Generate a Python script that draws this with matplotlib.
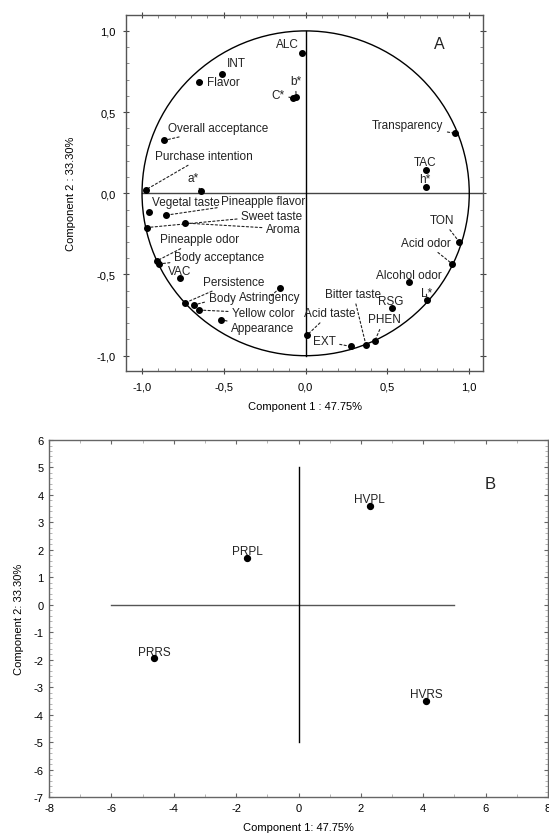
import matplotlib
matplotlib.use("Agg")
import matplotlib.pyplot as plt
from matplotlib.patches import Circle
from matplotlib.ticker import MultipleLocator, FixedLocator, FuncFormatter

plt.rcParams['font.family'] = ['Liberation Sans', 'DejaVu Sans']

# ---------------- Data: panel A (loadings) ----------------
var_names = ["ALC", "INT", "Flavor", "b*", "C*", "Overall acceptance", "Purchase intention", "a*",
             "Transparency", "TAC", "h*", "Vegetal taste", "Pineapple flavor", "Sweet taste", "Aroma",
             "Pineapple odor", "Body acceptance", "VAC", "Persistence", "Body", "Astringency",
             "Yellow color", "Appearance", "Acid taste", "Bitter taste", "RSG", "PHEN", "EXT",
             "TON", "Acid odor", "Alcohol odor", "L*"]
load_pc1 = [-0.02, -0.509, -0.65, -0.058, -0.078, -0.864, -0.976, -0.639,
            0.914, 0.737, 0.733, -0.955, -0.855, -0.971, -0.739,
            -0.906, -0.896, -0.768, -0.735, -0.680, -0.158,
            -0.65, -0.515, 0.007, 0.368, 0.529, 0.421, 0.276,
            0.937, 0.896, 0.631, 0.743]
load_pc2 = [0.862, 0.735, 0.688, 0.59, 0.586, 0.326, 0.022, 0.012,
            0.369, 0.141, 0.041, -0.117, -0.135, -0.211, -0.183,
            -0.414, -0.435, -0.522, -0.674, -0.687, -0.584,
            -0.719, -0.779, -0.875, -0.932, -0.709, -0.912, -0.943,
            -0.297, -0.435, -0.547, -0.66]

# ---------------- Data: panel B (scores) ----------------
samples = ["HVPL", "PRPL", "PRRS", "HVRS"]
score_pc1 = [2.28, -1.65, -4.64, 4.10]
score_pc2 = [3.60, 1.72, -1.94, -3.50]

a_ticks = [-1.0, -0.5, 0.0, 0.5, 1.0]
a_ticklabels = ["-1,0", "-0,5", "0,0", "0,5", "1,0"]
b_xticks = [-8, -6, -4, -2, 0, 2, 4, 6, 8]
b_yticks = [-7, -6, -5, -4, -3, -2, -1, 0, 1, 2, 3, 4, 5, 6]

# ---------------- Layout: label placement for panel A ----------------
# (text centre x, text centre y, draw leader line)
label_layout = {
    "ALC": (-0.109, 0.922, False), "INT": (-0.425, 0.80, False), "Flavor": (-0.505, 0.686, True),
    "b*": (-0.062, 0.69, True), "C*": (-0.168, 0.608, True),
    "Overall acceptance": (-0.533, 0.403, True), "Purchase intention": (-0.619, 0.231, True),
    "a*": (-0.69, 0.092, True), "Transparency": (0.623, 0.42, True), "TAC": (0.733, 0.19, False),
    "h*": (0.729, 0.088, False), "Vegetal taste": (-0.731, -0.052, False),
    "Pineapple flavor": (-0.258, -0.047, True), "Sweet taste": (-0.207, -0.138, True),
    "Aroma": (-0.136, -0.219, True), "Pineapple odor": (-0.651, -0.283, True),
    "Body acceptance": (-0.529, -0.392, True), "VAC": (-0.769, -0.48, False),
    "Persistence": (-0.441, -0.545, True), "Body": (-0.511, -0.642, True),
    "Astringency": (-0.217, -0.636, True), "Yellow color": (-0.258, -0.738, True),
    "Appearance": (-0.262, -0.832, True), "Acid taste": (0.15, -0.738, True),
    "Bitter taste": (0.292, -0.619, True), "RSG": (0.521, -0.662, False),
    "PHEN": (0.48, -0.777, True), "EXT": (0.113, -0.912, True), "TON": (0.835, -0.164, True),
    "Acid odor": (0.735, -0.305, True), "Alcohol odor": (0.629, -0.502, False),
    "L*": (0.737, -0.613, True),
}

fig = plt.figure(figsize=(5.49, 8.37), dpi=100)
fig.patch.set_facecolor("white")

# ================= Panel A =================
axA = fig.add_axes([0.2295, 0.5556, 0.6503, 0.4253])
axA.set_xlim(-1.098, 1.084)
axA.set_ylim(-1.094, 1.098)
axA.add_patch(Circle((0, 0), 1.0, fill=False, ec="black", lw=1.0, zorder=2))
axA.plot([-1.0, 1.084], [0, 0], color="#444444", lw=1.0, zorder=1)
axA.plot([0, 0], [-1.0, 1.0], color="black", lw=1.0, zorder=1)
axA.scatter(load_pc1, load_pc2, s=16, color="black", zorder=4)

for name, x, y in zip(var_names, load_pc1, load_pc2):
    tx, ty, lead = label_layout[name]
    if lead:
        axA.annotate(name, xy=(x, y), xytext=(tx, ty), ha="center", va="center",
                     fontsize=8.5, color="#222222",
                     arrowprops=dict(arrowstyle="-", linestyle=(0, (2, 2)), lw=0.8,
                                     color="#222222", shrinkA=1, shrinkB=2))
    else:
        axA.text(tx, ty, name, ha="center", va="center", fontsize=8.5, color="#222222")

axA.text(0.817, 0.922, "A", ha="center", va="center", fontsize=11.5, color="#222222")

axA.xaxis.set_major_locator(FixedLocator(a_ticks))
axA.yaxis.set_major_locator(FixedLocator(a_ticks))
axA.set_xticklabels(a_ticklabels)
axA.set_yticklabels(a_ticklabels)
axA.xaxis.set_minor_locator(MultipleLocator(0.1))
axA.yaxis.set_minor_locator(MultipleLocator(0.1))
axA.tick_params(which="major", direction="inout", length=5, width=0.8, labelsize=8,
                top=True, right=True, color="#444444", pad=5)
axA.tick_params(which="minor", direction="in", length=2.5, width=0.6,
                top=True, right=True, color="#777777")
for sp in axA.spines.values():
    sp.set_color("#555555")
    sp.set_linewidth(1.0)
axA.set_xlabel("Component 1 : 47.75%", fontsize=8)
axA.set_ylabel("Component 2 : 33.30%", fontsize=8)
axA.xaxis.set_label_coords(0.5, -0.085)
axA.yaxis.set_label_coords(-0.141, 0.5)

# ================= Panel B =================
axB = fig.add_axes([0.0893, 0.0466, 0.9089, 0.4265])
axB.set_xlim(-8, 8)
axB.set_ylim(-7, 6)
axB.plot([-6, 5], [0, 0], color="#555555", lw=1.0, zorder=1)
axB.plot([0, 0], [-5, 5], color="black", lw=1.0, zorder=1)
axB.scatter(score_pc1, score_pc2, s=18, color="black", zorder=4)
for name, x, y in zip(samples, score_pc1, score_pc2):
    axB.annotate(name, xy=(x, y), xytext=(0, 2.5), textcoords="offset points",
                 ha="center", va="baseline", fontsize=8.5, color="#222222")
axB.text(6.14, 4.4, "B", ha="center", va="center", fontsize=12, color="#222222")

axB.xaxis.set_major_locator(FixedLocator(b_xticks))
axB.yaxis.set_major_locator(FixedLocator(b_yticks))
axB.xaxis.set_major_formatter(FuncFormatter(lambda v, p: "%d" % v))
axB.yaxis.set_major_formatter(FuncFormatter(lambda v, p: "%d" % v))
axB.xaxis.set_minor_locator(MultipleLocator(1))
axB.yaxis.set_minor_locator(MultipleLocator(0.2))
axB.tick_params(which="major", direction="in", length=3, width=0.8, labelsize=8,
                top=True, right=True, color="#666666", pad=4)
axB.tick_params(which="minor", direction="in", length=2, width=0.5,
                top=True, right=True, color="#999999")
for sp in axB.spines.values():
    sp.set_color("#666666")
    sp.set_linewidth(1.0)
axB.set_xlabel("Component 1: 47.75%", fontsize=8)
axB.set_ylabel("Component 2: 33.30%", fontsize=8)
axB.xaxis.set_label_coords(0.5, -0.07)
axB.yaxis.set_label_coords(-0.05, 0.5)

fig.savefig("out.png", dpi=100)
